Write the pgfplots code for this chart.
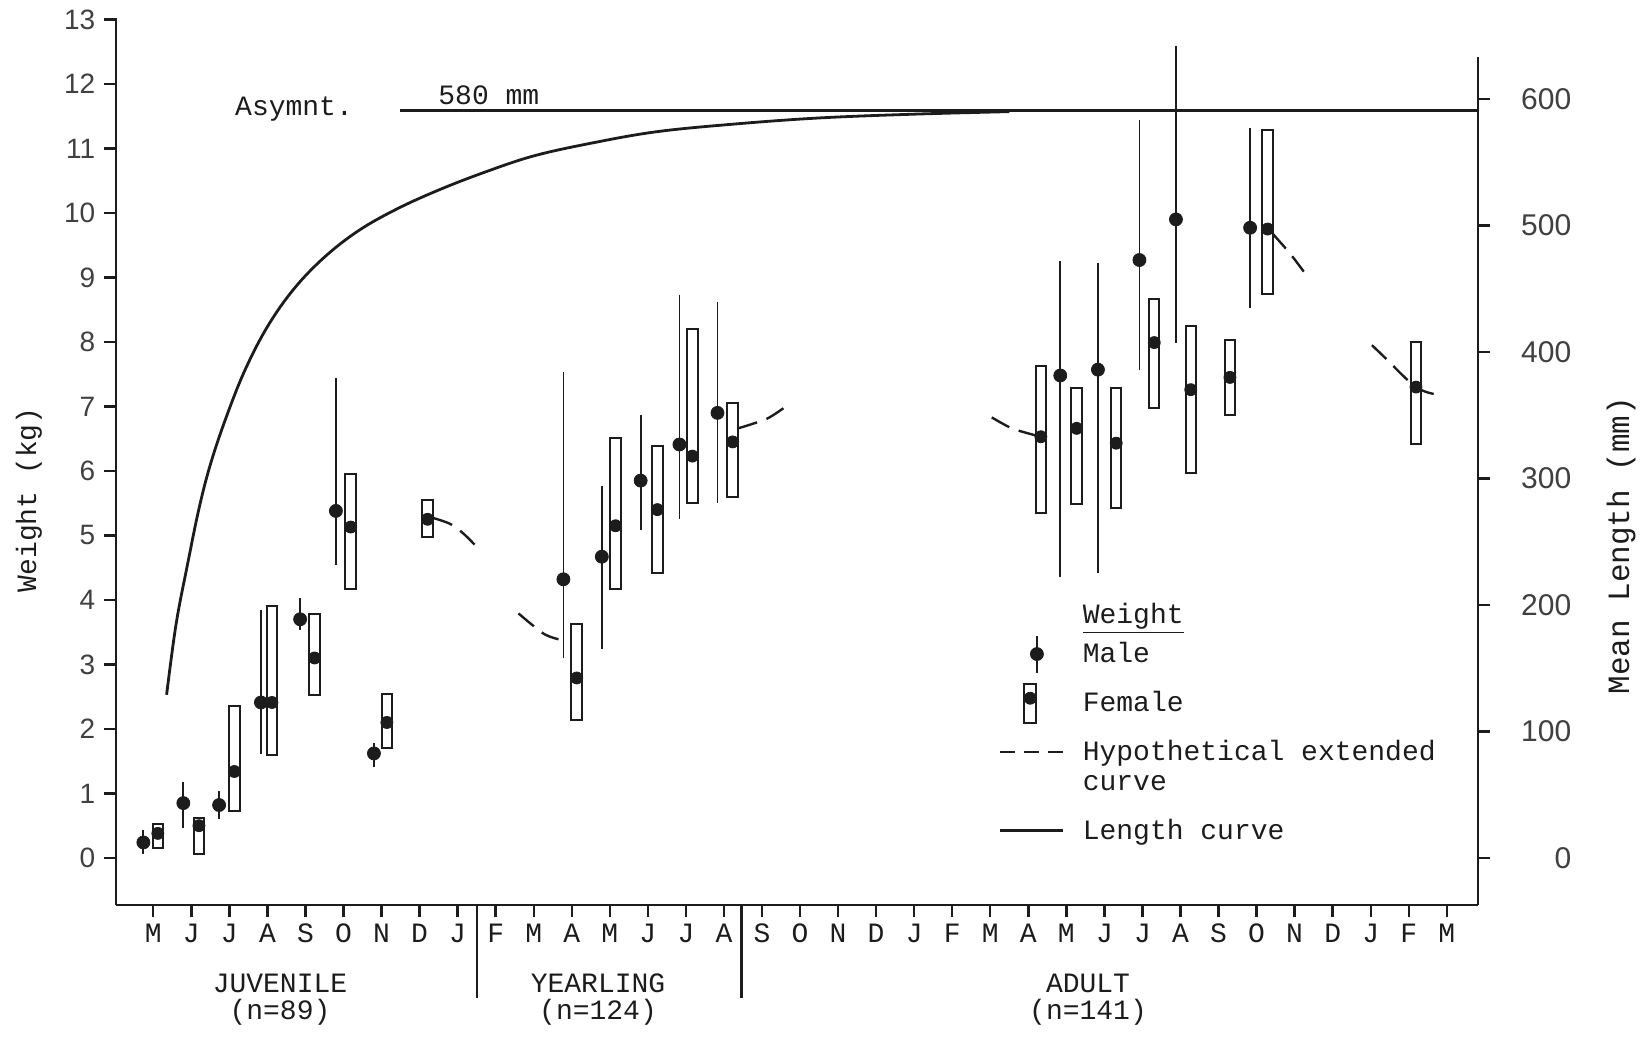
\documentclass[border=0pt]{standalone}
\usepackage{fontspec}
\setmainfont{Liberation Mono}
\newfontfamily\numfont{Liberation Sans}
\usepackage{pgfplots}
\pgfplotsset{compat=1.18}
\usepackage{pgfplotstable}
\definecolor{ink}{HTML}{1C1C1C}
\definecolor{numgray}{HTML}{404040}

% Male: mean and range (kg); x = month index (0 = May of first year)
\pgfplotstableread{
x mean low high
-0.26 0.24 0.06 0.43
0.79 0.85 0.47 1.18
1.73 0.82 0.60 1.03
2.83 2.41 1.61 3.85
3.86 3.70 3.53 4.03
4.80 5.38 4.54 7.44
5.80 1.62 1.41 1.78
10.78 4.32 3.10 7.54
11.79 4.67 3.24 5.77
12.81 5.85 5.09 6.87
13.83 6.41 5.25 8.73
14.83 6.90 5.51 8.62
23.84 7.48 4.36 9.25
24.83 7.57 4.42 9.23
25.92 9.27 7.57 11.44
26.88 9.90 7.99 12.59
28.83 9.77 8.53 11.31
}\male

% Female: mean and range (kg)
\pgfplotstableread{
x mean low high
0.12 0.38 0.16 0.52
1.20 0.50 0.06 0.62
2.13 1.34 0.73 2.35
3.12 2.41 1.60 3.91
4.24 3.10 2.53 3.78
5.19 5.13 4.17 5.96
6.14 2.10 1.70 2.54
7.21 5.25 4.98 5.55
11.13 2.79 2.14 3.62
12.15 5.15 4.17 6.51
13.25 5.40 4.41 6.38
14.17 6.23 5.50 8.20
15.23 6.45 5.60 7.05
23.33 6.53 5.34 7.63
24.27 6.66 5.48 7.28
25.31 6.43 5.43 7.29
26.31 7.99 6.97 8.66
27.27 7.26 5.97 8.25
28.30 7.45 6.87 8.03
29.29 9.75 8.75 11.29
33.19 7.30 6.42 8.00
}\female

\tikzset{boxst/.style={draw=ink, fill=white, line width=1pt}}

\begin{document}
\begin{tikzpicture}
\path[use as bounding box] (-58pt,-67.5pt) rectangle (762pt,452.5pt);
\begin{axis}[
  at={(0pt,0pt)}, anchor=south west,
  scale only axis, width=681pt, height=443.75pt,
  xmin=-0.98, xmax=34.82, ymin=-0.73, ymax=13.03,
  axis x line*=bottom, axis y line*=left,
  axis line style={ink, line width=1.4pt},
  xtick={0,...,34},
  xticklabels={M,J,J,A,S,O,N,D,J,F,M,A,M,J,J,A,S,O,N,D,J,F,M,A,M,J,J,A,S,O,N,D,J,F,M},
  ytick={0,...,13},
  tick align=outside, major tick length=6pt,
  tick style={ink, line width=1.2pt},
  xticklabel style={font=\fontsize{14}{16}\selectfont, text=ink, anchor=north, inner sep=0pt, text height=9.5pt, text depth=0pt, yshift=-3.2pt},
  yticklabel style={font=\numfont\fontsize{14}{16}\selectfont, text=numgray, anchor=east, inner sep=0pt, xshift=-4.2pt},
  /pgf/number format/assume math mode=true,
  clip=false,
  legend cell align=left,
  legend style={draw=none, fill=none, inner sep=0pt, outer sep=0pt, column sep=9pt, row sep=4pt,
    at={(axis cs:22.23,3.95)}, anchor=north west, font=\fontsize{14}{15.2}\selectfont,
    nodes={align=left, inner sep=0pt, text=ink}},
]
% hypothetical extended curves
\addplot[ink, line width=1.2pt, dash pattern=on 10pt off 5pt, smooth, forget plot] coordinates {(7.36,5.27) (7.8,5.18) (8.15,5.03) (8.54,4.80)};
\addplot[ink, line width=1.2pt, dash pattern=on 10pt off 5pt, smooth, forget plot] coordinates {(9.6,3.79) (10.25,3.48) (10.65,3.39)};
\addplot[ink, line width=1.2pt, dash pattern=on 10pt off 5pt, smooth, forget plot] coordinates {(15.37,6.66) (16.13,6.81) (16.65,7.01)};
\addplot[ink, line width=1.2pt, dash pattern=on 10pt off 5pt, smooth, forget plot] coordinates {(22.04,6.83) (22.57,6.66) (23.2,6.55)};
\addplot[ink, line width=1.2pt, dash pattern=on 10pt off 5pt, smooth, forget plot] coordinates {(29.42,9.68) (29.88,9.37) (30.24,9.09)};
\addplot[ink, line width=1.2pt, dash pattern=on 10pt off 5pt, smooth, forget plot] coordinates {(32.03,7.95) (32.42,7.73) (32.86,7.47) (33.19,7.30) (33.48,7.22) (33.91,7.16)};

% female ranges (boxes)
\addplot[boxst, forget plot] coordinates {(-0.018,0.16) (0.258,0.16) (0.258,0.52) (-0.018,0.52)} -- cycle;
\addplot[boxst, forget plot] coordinates {(1.062,0.06) (1.338,0.06) (1.338,0.62) (1.062,0.62)} -- cycle;
\addplot[boxst, forget plot] coordinates {(1.992,0.73) (2.268,0.73) (2.268,2.35) (1.992,2.35)} -- cycle;
\addplot[boxst, forget plot] coordinates {(2.982,1.60) (3.258,1.60) (3.258,3.91) (2.982,3.91)} -- cycle;
\addplot[boxst, forget plot] coordinates {(4.102,2.53) (4.378,2.53) (4.378,3.78) (4.102,3.78)} -- cycle;
\addplot[boxst, forget plot] coordinates {(5.052,4.17) (5.328,4.17) (5.328,5.96) (5.052,5.96)} -- cycle;
\addplot[boxst, forget plot] coordinates {(6.002,1.70) (6.278,1.70) (6.278,2.54) (6.002,2.54)} -- cycle;
\addplot[boxst, forget plot] coordinates {(7.072,4.98) (7.348,4.98) (7.348,5.55) (7.072,5.55)} -- cycle;
\addplot[boxst, forget plot] coordinates {(10.992,2.14) (11.268,2.14) (11.268,3.62) (10.992,3.62)} -- cycle;
\addplot[boxst, forget plot] coordinates {(12.012,4.17) (12.288,4.17) (12.288,6.51) (12.012,6.51)} -- cycle;
\addplot[boxst, forget plot] coordinates {(13.112,4.41) (13.388,4.41) (13.388,6.38) (13.112,6.38)} -- cycle;
\addplot[boxst, forget plot] coordinates {(14.032,5.50) (14.308,5.50) (14.308,8.20) (14.032,8.20)} -- cycle;
\addplot[boxst, forget plot] coordinates {(15.092,5.60) (15.368,5.60) (15.368,7.05) (15.092,7.05)} -- cycle;
\addplot[boxst, forget plot] coordinates {(23.192,5.34) (23.468,5.34) (23.468,7.63) (23.192,7.63)} -- cycle;
\addplot[boxst, forget plot] coordinates {(24.132,5.48) (24.408,5.48) (24.408,7.28) (24.132,7.28)} -- cycle;
\addplot[boxst, forget plot] coordinates {(25.172,5.43) (25.448,5.43) (25.448,7.29) (25.172,7.29)} -- cycle;
\addplot[boxst, forget plot] coordinates {(26.172,6.97) (26.448,6.97) (26.448,8.66) (26.172,8.66)} -- cycle;
\addplot[boxst, forget plot] coordinates {(27.132,5.97) (27.408,5.97) (27.408,8.25) (27.132,8.25)} -- cycle;
\addplot[boxst, forget plot] coordinates {(28.162,6.87) (28.438,6.87) (28.438,8.03) (28.162,8.03)} -- cycle;
\addplot[boxst, forget plot] coordinates {(29.152,8.75) (29.428,8.75) (29.428,11.29) (29.152,11.29)} -- cycle;
\addplot[boxst, forget plot] coordinates {(33.052,6.42) (33.328,6.42) (33.328,8.00) (33.052,8.00)} -- cycle;

% male means with ranges
\addplot[ink, only marks, mark=*, mark size=3.25pt, mark options={fill=ink, draw=ink}, forget plot,
  error bars/.cd, y dir=both, y explicit, error mark=none, error bar style={line width=0.9pt, ink}]
  table[x=x, y=mean, y error plus expr=\thisrow{high}-\thisrow{mean}, y error minus expr=\thisrow{mean}-\thisrow{low}] {\male};
% female means
\addplot[ink, only marks, mark=*, mark size=3pt, mark options={fill=ink, draw=ink}, forget plot] table[x=x, y=mean] {\female};

% texts
\node[font=\fontsize{14}{16}\selectfont, text=ink] at (axis cs:3.70,11.61) {Asymnt.};
\node[font=\fontsize{14}{16}\selectfont, text=ink] at (axis cs:8.82,11.83) {580 mm};
\node[rotate=90, font=\fontsize{14}{16}\selectfont, text=ink] at (axis cs:-3.27,5.55) {Weight (kg)};
\node[rotate=90, font=\fontsize{15.5}{17}\selectfont, text=ink] at (axis cs:38.58,4.84) {Mean Length (mm)};
\node[font=\fontsize{14}{16}\selectfont, text=ink] at (axis cs:3.33,-1.94) {JUVENILE};
\node[font=\fontsize{14}{16}\selectfont, text=ink] at (axis cs:3.33,-2.40) {(n=89)};
\node[font=\fontsize{14}{16}\selectfont, text=ink] at (axis cs:11.69,-1.94) {YEARLING};
\node[font=\fontsize{14}{16}\selectfont, text=ink] at (axis cs:11.69,-2.40) {(n=124)};
\node[font=\fontsize{14}{16}\selectfont, text=ink] at (axis cs:24.57,-1.94) {ADULT};
\node[font=\fontsize{14}{16}\selectfont, text=ink] at (axis cs:24.57,-2.40) {(n=141)};
\draw[ink, line width=1.4pt] (axis cs:8.51,-0.73) -- (axis cs:8.51,-2.17);
\draw[ink, line width=1.4pt] (axis cs:15.47,-0.73) -- (axis cs:15.47,-2.17);

% legend
\addlegendimage{empty legend}
\addlegendentry{\underline{Weight}}
\addlegendimage{legend image code/.code={
  \path[draw=none, fill=none] (0pt,-9.8pt) rectangle (31.5pt,9.8pt);
  \draw[ink, line width=0.9pt] (18.25pt,-9.25pt) -- (18.25pt,9.25pt);
  \fill[ink] (18.25pt,0pt) circle (3.25pt);}}
\addlegendentry{Male}
\addlegendimage{legend image code/.code={
  \path[draw=none, fill=none] (0pt,-10.8pt) rectangle (31.5pt,10.8pt);
  \draw[ink, line width=1pt, fill=white] (12pt,-9.75pt) rectangle (17.75pt,9.75pt);
  \fill[ink] (14.9pt,2.5pt) circle (3pt);}}
\addlegendentry{Female}
\addlegendimage{legend image code/.code={
  \path[draw=none, fill=none] (0pt,-17.1pt) rectangle (31.5pt,17.1pt);
  \draw[ink, line width=1.2pt, dash pattern=on 7.5pt off 4.5pt] (0pt,7.4pt) -- (31.5pt,7.4pt);}}
\addlegendentry{Hypothetical extended\\curve}
\addlegendimage{legend image code/.code={
  \path[draw=none, fill=none] (0pt,-10.8pt) rectangle (31.5pt,10.8pt);
  \draw[ink, line width=1.4pt] (0pt,0pt) -- (31.5pt,0pt);}}
\addlegendentry{Length curve}
\end{axis}

\begin{axis}[
  at={(0pt,0pt)}, anchor=south west,
  scale only axis, width=681pt, height=424pt,
  xmin=-0.98, xmax=34.82, ymin=-37.2, ymax=633.2,
  axis x line=none, axis y line*=right,
  axis line style={ink, line width=1.4pt},
  ytick={0,100,...,600},
  tick align=outside, major tick length=6pt,
  tick style={ink, line width=1.2pt},
  yticklabel style={font=\numfont\fontsize{15}{17}\selectfont, text=numgray, anchor=east, inner sep=0pt, xshift=40.8pt},
  /pgf/number format/assume math mode=true,
  clip=false,
]
% length curve (mm)
\addplot[ink, line width=1.4pt, smooth, tension=0.6] coordinates {(0.35,129) (0.6,185) (0.9,232) (1.2,276) (1.5,311) (1.9,347) (2.4,385) (3.0,420) (3.7,450) (4.5,475) (5.4,496) (6.4,513) (7.5,528) (8.7,542) (10.0,555) (11.5,565) (13.2,574) (15.2,580) (17.5,585) (20.0,588) (22.5,590)};
% asymptote
\addplot[ink, line width=1.4pt] coordinates {(6.49,591) (34.82,591)};
\end{axis}
\end{tikzpicture}
\end{document}
